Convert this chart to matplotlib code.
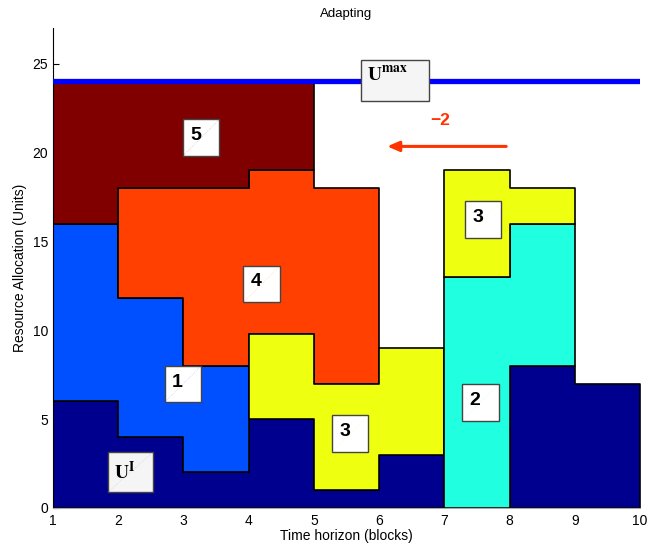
import numpy as np
import matplotlib
matplotlib.use("Agg")
import matplotlib.pyplot as plt
from matplotlib.patches import Rectangle

plt.rcParams['font.family'] = ['Liberation Sans', 'DejaVu Sans']
plt.rcParams['mathtext.fontset'] = 'stix'

# ---- data: per-block lower/upper allocation of each job (blocks start at x) ----
ui_a_x = [1, 2, 3, 4, 5, 6, 7]
ui_a_lo = [0, 0, 0, 0, 0, 0]
ui_a_hi = [6, 4, 2, 5, 1, 3]

ui_b_x = [8, 9, 10]
ui_b_lo = [0, 0]
ui_b_hi = [8, 7]

job1_x = [1, 2, 3, 4]
job1_lo = [6, 4, 2]
job1_hi = [16, 11.8, 8]

job4_x = [2, 3, 4, 5, 6]
job4_lo = [11.8, 8, 9.8, 7]
job4_hi = [18, 18, 19, 18]

job5_x = [1, 2, 3, 4, 5]
job5_lo = [16, 18, 18, 19]
job5_hi = [24, 24, 24, 24]

job3a_x = [4, 5, 6, 7]
job3a_lo = [5, 1, 3]
job3a_hi = [9.8, 7, 9]

job2_x = [7, 8, 9]
job2_lo = [0, 8]
job2_hi = [13, 16]

job3b_x = [7, 8, 9]
job3b_lo = [13, 16]
job3b_hi = [19, 18]

u_max = 24
shift = "\u22122"

c_navy = '#00008F'
c_blue = '#0050FF'
c_cyan = '#20FFDF'
c_yellow = '#EFFF10'
c_orange = '#FF4000'
c_dred = '#800000'

fig = plt.figure(figsize=(6.48, 5.49), dpi=100)
ax = fig.add_axes([0.0818, 0.0747, 0.906, 0.8743])


def region(x, lo, hi, color):
    lo = list(lo) + [lo[-1]]
    hi = list(hi) + [hi[-1]]
    ax.fill_between(x, lo, hi, step='post', facecolor=color,
                    edgecolor='black', linewidth=1.2, zorder=2)


region(ui_a_x, ui_a_lo, ui_a_hi, c_navy)
region(ui_b_x, ui_b_lo, ui_b_hi, c_navy)
region(job1_x, job1_lo, job1_hi, c_blue)
region(job4_x, job4_lo, job4_hi, c_orange)
region(job5_x, job5_lo, job5_hi, c_dred)
region(job3a_x, job3a_lo, job3a_hi, c_yellow)
region(job2_x, job2_lo, job2_hi, c_cyan)
region(job3b_x, job3b_lo, job3b_hi, c_yellow)

ax.axhline(u_max, color='#0000FF', linewidth=3.8, zorder=3)


def tag(cx, cy, w, h, label, tint, face='white', serif=False, top=False):
    ax.add_patch(Rectangle((cx - w / 2, cy - h / 2), w, h, facecolor=face,
                           edgecolor='#444444', linewidth=1.0, zorder=5))
    ax.plot([cx - w / 2, cx + w / 2], [cy - h / 2, cy + h / 2],
            color=tint, linewidth=0.5, alpha=0.3, linestyle=':', zorder=6)
    if serif:
        ty = cy + h / 2 - 0.35 if top else cy
        va = 'top' if top else 'center'
        ax.text(cx - w / 2 + 0.1, ty, label, fontsize=14, ha='left', va=va,
                zorder=7)
    else:
        ax.text(cx - w / 2 + 0.11, cy + 0.12, label, fontsize=14,
                fontweight='bold', ha='left', va='center', zorder=7)


bw, bh = 0.56, 2.05
tag(3.27, 20.83, bw, bh, '5', c_dred)
tag(4.20, 12.60, bw, bh, '4', c_orange)
tag(2.99, 6.96, bw, bh, '1', c_blue)
tag(5.555, 4.19, bw, bh, '3', c_yellow)
tag(7.595, 16.24, bw, bh, '3', c_yellow)
tag(7.55, 5.93, bw, bh, '2', c_cyan)
tag(2.19, 2.03, 0.70, 2.27, r'$\mathbf{U}^{\mathbf{I}}$', '#6666ff',
    face='#F5F5F5', serif=True)
tag(6.24, 24.07, 1.05, 2.31, r'$\mathbf{U}^{\mathbf{max}}$', '#F5F5F5',
    face='#F5F5F5', serif=True, top=True)

ax.annotate('', xy=(6.08, 20.34), xytext=(7.99, 20.34),
            arrowprops=dict(arrowstyle='-|>,head_length=0.7,head_width=0.3',
                            color='#FF3300', linewidth=2.2), zorder=6)
ax.text(6.94, 21.8, shift, color='#FF3300', fontsize=12.5, fontweight='bold',
        ha='center', va='center')

ax.set_xlim(1, 10)
ax.set_ylim(0, 27)
ax.set_xticks(range(1, 11))
ax.set_yticks(range(0, 26, 5))
ax.tick_params(axis='y', direction='in', length=4, labelsize=10)
ax.tick_params(axis='x', length=0, labelsize=10, pad=4)
ax.spines['top'].set_visible(False)
ax.spines['right'].set_visible(False)
ax.spines['bottom'].set_color('#AAAAAA')
ax.spines['left'].set_color('black')
ax.set_title('Adapting', fontsize=9.5, pad=8)
ax.set_xlabel('Time horizon (blocks)', fontsize=10, labelpad=1)
ax.set_ylabel('Resource Allocation (Units)', fontsize=10, labelpad=4)

fig.savefig('out.png', dpi=100)
